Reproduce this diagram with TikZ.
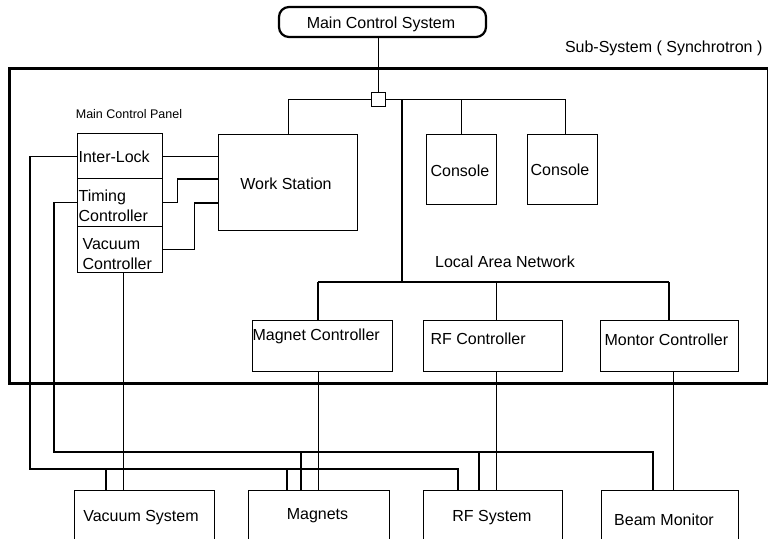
\documentclass[tikz,border=0pt]{standalone}
\usepackage{fontspec}
\setmainfont{Liberation Sans}
\begin{document}
\begin{tikzpicture}[x=1pt,y=-1pt,line width=1.2pt,
  box/.style={draw,line width=1.2pt,inner sep=0pt,anchor=north west},
  txt/.style={font=\fontsize{16}{20}\selectfont,inner sep=0pt,align=left},
  small/.style={font=\fontsize{12.5}{15}\selectfont,inner sep=0pt}]
\useasboundingbox (0,0) rectangle (768,538);
\clip (0,0) rectangle (768,538);

% frame of the sub-system
\node[draw,line width=3pt,inner sep=0pt,anchor=north west,minimum width=759pt,minimum height=315pt] (sub) at (8,67) {};
\node[txt,anchor=east] (subl) at (763,48) {Sub-System ( Synchrotron )};

% main control system
\node[draw,line width=2.2pt,rounded corners=10pt,minimum width=207pt,minimum height=30pt,inner sep=0pt] (mcs) at (382.5,22) {};
\node[txt] (mcst) at (381,24) {Main Control System};
\node[draw,line width=1.2pt,minimum width=14pt,minimum height=14pt,inner sep=0pt] (sq) at (378.5,99.5) {};

% boxes
\node[box,minimum width=139pt,minimum height=96pt] (ws) at (218,134) {};
\node[txt] (wst) at (286,184) {Work Station};
\node[box,minimum width=70pt,minimum height=70pt] (c1) at (426,134) {};
\node[txt] (c1t) at (460,171) {Console};
\node[box,minimum width=70pt,minimum height=70pt] (c2) at (527,134) {};
\node[txt] (c2t) at (560,170) {Console};

\node[small] (mcp) at (129,114) {Main Control Panel};
\node[box,minimum width=85pt,minimum height=45pt] (il) at (77,133) {};
\node[txt,anchor=west] (ilt) at (78,157) {Inter-Lock};
\node[box,minimum width=85pt,minimum height=48pt] (tc) at (77,178) {};
\node[txt,anchor=west] (tct) at (78,206) {Timing\\Controller};
\node[box,minimum width=85pt,minimum height=46pt] (vc) at (77,226) {};
\node[txt,anchor=west] (vct) at (82,254) {Vacuum\\Controller};

\node[txt] (lant) at (505,262) {Local Area Network};

\node[box,minimum width=140pt,minimum height=51pt] (mc) at (252,320) {};
\node[txt,anchor=west] (mct) at (252,336) {Magnet Controller};
\node[box,minimum width=139pt,minimum height=51pt] (rfc) at (423,320) {};
\node[txt,anchor=west] (rfct) at (430,339) {RF Controller};
\node[box,minimum width=138pt,minimum height=51pt] (monc) at (600,320) {};
\node[txt,anchor=west] (monct) at (604,340) {Montor Controller};

\node[box,minimum width=140pt,minimum height=70pt] (vs) at (74,490) {};
\node[txt] (vst) at (141,518) {Vacuum System};
\node[box,minimum width=141pt,minimum height=70pt] (mg) at (248,490) {};
\node[txt] (mgt) at (317.5,516) {Magnets};
\node[box,minimum width=139pt,minimum height=70pt] (rfs) at (423,490) {};
\node[txt] (rfst) at (492,518) {RF System};
\node[box,minimum width=137pt,minimum height=70pt] (bm) at (601,490) {};
\node[txt] (bmt) at (664,520) {Beam Monitor};

% top network
\draw (mcs.south -| sq.north) -- (sq.north);
\draw (ws.north) |- (sq.west);
\draw (sq.east) -| ([xshift=3pt]c2.north);
\draw (c1.north) -- (c1.north |- sq.east);
\coordinate (lan) at (402,282);
\draw (sq.east -| lan) -- (lan);
\coordinate (lanL) at (318,282);
\coordinate (lanR) at (669,282);
\draw (lanL) -- (lanR);
\draw (lanL) -- (lanL |- mc.north);
\draw ([xshift=3.5pt]rfc.north) -- ([xshift=3.5pt]rfc.north |- lanL);
\draw (lanR) -- (lanR |- monc.north);

% controllers to systems
\draw ([xshift=-4pt]mc.south) -- ([xshift=-4pt]mc.south |- mg.north);
\draw ([xshift=3.5pt]rfc.south) -- ([xshift=3.5pt]rfc.south |- rfs.north);
\draw ([xshift=4pt]monc.south) -- ([xshift=4pt]monc.south |- bm.north);
\draw ([xshift=3.5pt]vc.south) -- ([xshift=3.5pt]vc.south |- vs.north);

% panel to work station
\coordinate (w1) at (0,179);
\coordinate (w2) at (0,203);
\draw (il.east) -- (ws.west |- il.east);
\draw (tc.east) -- ++(14,0) |- (w1 -| ws.west);
\draw (vc.east) -- ++(31,0) |- (w2 -| ws.west);

% inter-lock bus
\coordinate (iy) at (30,469);
\coordinate (i1) at (106,469);
\coordinate (i2) at (287,469);
\coordinate (i3) at (458,469);
\draw (il.west) -| (iy) -- (i3) -- (i3 |- rfs.north);
\draw (i1) -- (i1 |- vs.north);
\draw (i2) -- (i2 |- mg.north);

% timing bus
\coordinate (ty) at (54,452);
\coordinate (t1) at (301,452);
\coordinate (t2) at (479,452);
\coordinate (t3) at (653,452);
\draw (tc.west) -| (ty) -- (t3) -- (t3 |- bm.north);
\draw (t1) -- (t1 |- mg.north);
\draw (t2) -- (t2 |- rfs.north);
\end{tikzpicture}
\end{document}
